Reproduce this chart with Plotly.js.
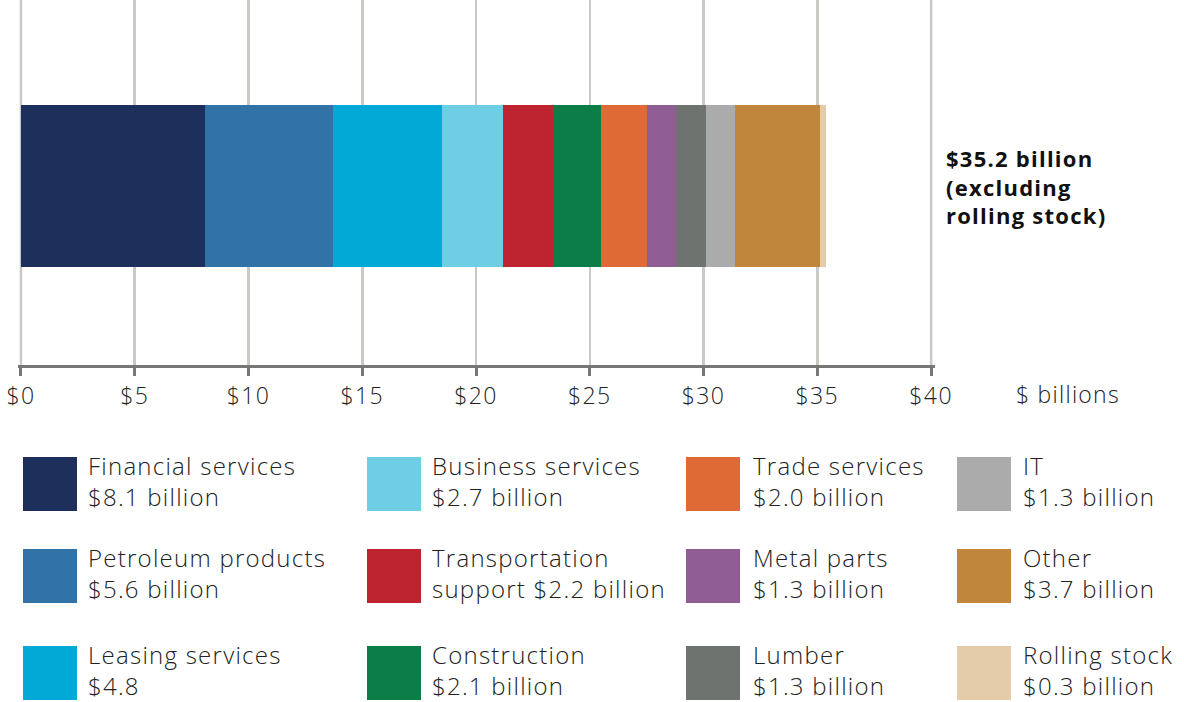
<!DOCTYPE html>
<html>
<head>
<meta charset="utf-8">
<script src="https://cdn.plot.ly/plotly-3.0.1.min.js"></script>
<style>
  html, body { margin: 0; padding: 0; background: #ffffff; }
  #chart { width: 1184px; height: 702px; }
  #chart text.annotation-text { letter-spacing: 1.25px; }
  #chart g.xtick text { letter-spacing: 1.4px; }
</style>
</head>
<body>
<div id="chart"></div>
<script>
// ---- Data ----
const categories = [
  "Financial services", "Petroleum products", "Leasing services",
  "Business services", "Transportation support", "Construction",
  "Trade services", "Metal parts", "Lumber",
  "IT", "Other", "Rolling stock"
];
const values = [8.1, 5.6, 4.8, 2.7, 2.2, 2.1, 2.0, 1.3, 1.3, 1.3, 3.7, 0.3];
const colors = [
  "#1d305b", "#3173a6", "#00a9d6",
  "#6fcee4", "#be2430", "#0d7d48",
  "#e06a35", "#8f5c93", "#6f736f",
  "#ababab", "#c0863b", "#e4ccaa"
];
const legendLine1 = [
  "Financial services", "Petroleum products", "Leasing services",
  "Business services", "Transportation", "Construction",
  "Trade services", "Metal parts", "Lumber",
  "IT", "Other", "Rolling stock"
];
const legendLine2 = [
  "$8.1 billion", "$5.6 billion", "$4.8",
  "$2.7 billion", "support $2.2 billion", "$2.1 billion",
  "$2.0 billion", "$1.3 billion", "$1.3 billion",
  "$1.3 billion", "$3.7 billion", "$0.3 billion"
];
const tickVals = [0, 5, 10, 15, 20, 25, 30, 35, 40];
const tickText = ["$0", "$5", "$10", "$15", "$20", "$25", "$30", "$35", "$40"];
const totalLabel = "<b>$35.2 billion<br>(excluding<br>rolling stock)</b>";
const unitLabel = "$ billions";

// ---- Layout constants ----
const W = 1184, H = 702;
const M = { l: 18, r: 249, t: 0, b: 337 };
const X_RANGE = [-0.13, 40.17];
const plotW = W - M.l - M.r, plotH = H - M.t - M.b;
const px = x => (x - M.l) / plotW;
const py = y => (M.t + plotH - y) / plotH;

const FONT = "'Open Sans', Lato, sans-serif";
const TEXT_COLOR = "#222222";
const GRID = "#c9c9c6";

const traces = categories.map((c, i) => ({
  type: "bar",
  orientation: "h",
  name: c,
  x: [values[i]],
  y: [0],
  width: 0.98,
  marker: { color: colors[i], line: { width: 0 } },
  showlegend: false,
  hoverinfo: "name+x"
}));

// legend grid (column-major)
const colSwatchX = [23, 367, 686, 957];
const colTextX = [86, 430, 751, 1021];
const rowTop = [457, 549, 646];
const SW = 54;

const shapes = [];
const annotations = [];

// make sure the edge gridlines (first and last tick) are drawn
[tickVals[0], tickVals[tickVals.length - 1]].forEach(v => {
  shapes.push({
    type: "line", xref: "x", yref: "paper",
    x0: v, x1: v, y0: 0, y1: 1,
    line: { color: GRID, width: 2.5 }, layer: "below"
  });
});

categories.forEach((c, i) => {
  const col = Math.floor(i / 3), row = i % 3;
  shapes.push({
    type: "rect", xref: "paper", yref: "paper",
    x0: px(colSwatchX[col]), x1: px(colSwatchX[col] + SW),
    y0: py(rowTop[row]), y1: py(rowTop[row] + SW),
    fillcolor: colors[i], line: { width: 0 }, layer: "above"
  });
  annotations.push({
    xref: "paper", yref: "paper",
    x: px(colTextX[col]), y: py(rowTop[row] - 10),
    xanchor: "left", yanchor: "top", align: "left",
    showarrow: false,
    text: legendLine1[i] + "<br>" + legendLine2[i],
    font: { family: FONT, size: 24, weight: 300, color: TEXT_COLOR }
  });
});

annotations.push({
  xref: "paper", yref: "paper",
  x: px(944), y: py(186),
  xanchor: "left", yanchor: "middle", align: "left",
  showarrow: false,
  text: totalLabel,
  font: { family: FONT, size: 22, color: "#111111" }
});
annotations.push({
  xref: "paper", yref: "paper",
  x: px(1014), y: py(394),
  xanchor: "left", yanchor: "middle", align: "left",
  showarrow: false,
  text: unitLabel,
  font: { family: FONT, size: 23, weight: 300, color: TEXT_COLOR }
});

const layout = {
  width: W, height: H,
  margin: M,
  paper_bgcolor: "#ffffff",
  plot_bgcolor: "#ffffff",
  barmode: "stack",
  bargap: 0,
  showlegend: false,
  font: { family: FONT, color: TEXT_COLOR },
  xaxis: {
    range: X_RANGE,
    tickvals: tickVals,
    ticktext: tickText,
    showgrid: true,
    gridcolor: GRID,
    gridwidth: 2.5,
    zeroline: false,
    showline: true,
    linecolor: "#777876",
    linewidth: 3,
    ticks: "outside",
    ticklen: 8,
    tickwidth: 3,
    tickcolor: "#777876",
    tickfont: { family: FONT, size: 23, weight: 300, color: TEXT_COLOR },
    fixedrange: true
  },
  yaxis: {
    range: [-1.08, 1.12],
    visible: false,
    showgrid: false,
    zeroline: false,
    fixedrange: true
  },
  shapes: shapes,
  annotations: annotations
};

Plotly.newPlot("chart", traces, layout, { displayModeBar: false, staticPlot: true });
</script>
</body>
</html>
